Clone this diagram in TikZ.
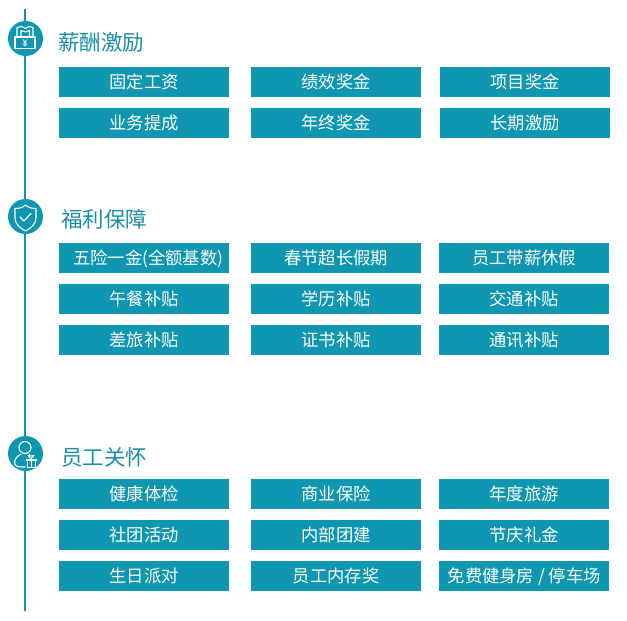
\documentclass[tikz,border=0pt]{standalone}
\usepackage{fontspec}
\setmainfont{Noto Sans CJK SC}
\usetikzlibrary{matrix}
\definecolor{boxteal}{HTML}{0F97B1}
\definecolor{headteal}{HTML}{1A8FAA}
\tikzset{
	cellbox/.style={fill=boxteal,text=white,minimum width=170pt,minimum height=30pt,inner sep=0pt,text height=14pt,text depth=2pt,font=\fontsize{17.3}{18}\selectfont},
	blockm/.style={matrix of nodes,nodes={cellbox},row sep=11pt,anchor=north west,inner sep=0pt},
	headtext/.style={text=headteal,anchor=west,inner sep=0pt,font=\fontsize{21.5}{24}\selectfont},
	iconcircle/.style={circle,fill=boxteal,minimum size=35pt,inner sep=0pt},
	iconline/.style={draw=white,line width=1.1pt,line join=round,line cap=round}
}
\begin{document}
\begin{tikzpicture}[x=1pt,y=-1pt]
			\useasboundingbox (0,0) rectangle (627,621);
			\coordinate (top) at (25,9);
			\coordinate (bottom) at (25,611);
			\draw [boxteal,line width=2pt] (top) -- (bottom);
			\node [iconcircle] (c1) at (25.5,38.5) {};
			\node [iconcircle] (c2) at (25.5,216.5) {};
			\node [iconcircle] (c3) at (25.5,453.5) {};
			\node [headtext] (h1) at (58,42.5) {薪酬激励};
			\node [headtext] (h2) at (61,219.5) {福利保障};
			\node [headtext] (h3) at (61,457.5) {员工关怀};
			\matrix (m1)[blockm] at (59,67)
			{
				固定工资&[22pt]绩效奖金&[19pt]项目奖金\\
				业务提成&年终奖金&长期激励\\
			};
			\matrix (m2)[blockm] at (59,243)
			{
				\hspace*{8pt}五险一金(全额基数)&[22pt]春节超长假期&[18pt]员工带薪休假\\
				午餐补贴&学历补贴&交通补贴\\
				差旅补贴&证书补贴&通讯补贴\\
			};
			\matrix (m3)[blockm] at (59,479)
			{
				健康体检&[22pt]商业保险&[18pt]年度旅游\\
				社团活动&内部团建&节庆礼金\\
				生日派对&员工内存奖&免费健身房 / 停车场\\
			};
			% icon 1
			\draw [iconline] (15,37) rectangle (35,48.5);
			\draw [iconline] (17,37) -- (17,27.5) -- (22,26.5) -- (25.5,28.5) -- (29,26.5) -- (33,27.5) -- (33,37);
			\draw [iconline] (21,37) -- (21,30.5) -- (25.5,32) -- (29.5,30.5) -- (29.5,37);
			\draw [iconline,line width=0.7pt] (23,39.5) -- (25,42) -- (27,39.5) (25,42) -- (25,46.5) (23,43) -- (27,43) (23,45) -- (27,45);
			% icon 2
			\draw [iconline] (25.5,205) .. controls (29,208) and (32,208.5) .. (36,208.5) -- (36,218) .. controls (36,224) and (31,228) .. (25.5,231) .. controls (20,228) and (15,224) .. (15,218) -- (15,208.5) .. controls (19,208.5) and (22,208) .. (25.5,205) -- cycle;
			\draw [iconline] (20,217) -- (24,221) -- (31,213.5);
			% icon 3
			\draw [iconline] (25,447.5) circle (6pt);
			\draw [iconline] (21,454) .. controls (16,456.5) and (13.5,461) .. (15,464.5) .. controls (16,467) and (20,467) .. (25,467);
			\draw [iconline] (29,454) -- (30,455.5);
			\fill [white] (25.5,458.5) rectangle (36.5,461);
			\draw [iconline,line width=0.9pt] (27,461) -- (27,467) -- (35,467) -- (35,461);
			\draw [iconline,line width=0.9pt] (31,458.5) -- (31,467);
			\draw [iconline,line width=0.9pt] (31,458.5) -- (28,455.5) -- (31,456) -- (34,455.5) -- (31,458.5);
		\end{tikzpicture}
\end{document}
